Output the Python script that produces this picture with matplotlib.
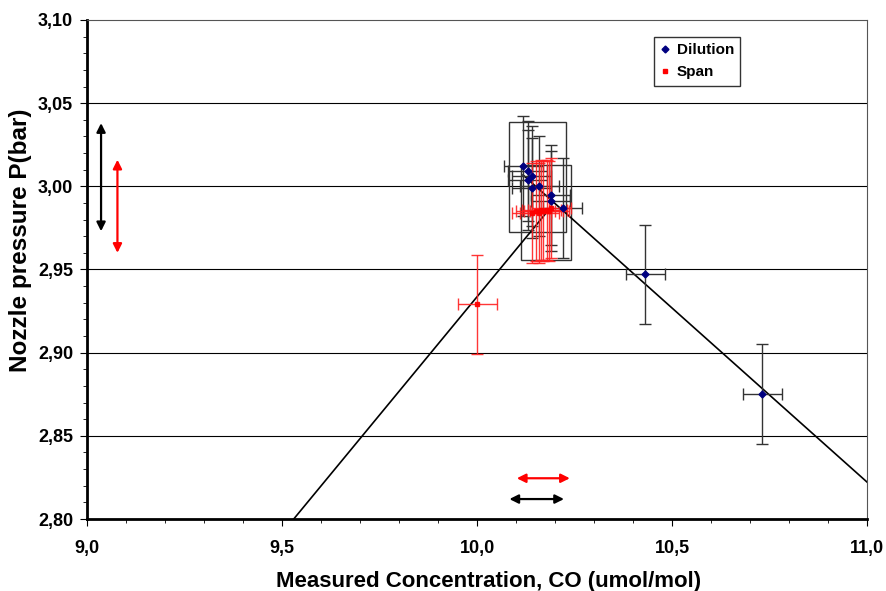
import matplotlib
matplotlib.use("Agg")
import matplotlib.pyplot as plt
from matplotlib.patches import Rectangle
from matplotlib.lines import Line2D
from matplotlib.ticker import MultipleLocator, FuncFormatter

plt.rcParams['font.family'] = ['Liberation Sans', 'DejaVu Sans']
plt.rcParams['font.weight'] = 'bold'

# Dilution series
dil_x = [10.119, 10.130, 10.140, 10.130, 10.140, 10.160, 10.189, 10.189, 10.220, 10.431, 10.731]
dil_y = [3.012, 3.009, 3.006, 3.004, 2.999, 3.000, 2.995, 2.991, 2.987, 2.947, 2.875]
dil_xerr = 0.05
dil_yerr = 0.03

# Span series
span_x = [10.00, 10.14, 10.15, 10.16, 10.165, 10.17, 10.18, 10.185, 10.19]
span_y = [2.929, 2.984, 2.985, 2.984, 2.986, 2.985, 2.986, 2.985, 2.987]
span_xerr = 0.05
span_yerr = 0.03

# fitted lines
fit_span_x = [9.53, 10.19]
fit_span_y = [2.80, 2.9876]
fit_dil_x = [10.118, 11.0]
fit_dil_y = [3.0068, 2.8222]

# uncertainty boxes: x0, y0, width, height
boxes = [(10.082, 2.9728, 0.145, 0.0661), (10.112, 2.9558, 0.128, 0.0571)]

# uncertainty arrows: (x0, y0, x1, y1, colour)
arrows = [(9.036, 3.038, 9.036, 2.973, 'black'),
          (9.078, 3.016, 9.078, 2.960, 'red'),
          (10.102, 2.8245, 10.238, 2.8245, 'red'),
          (10.083, 2.812, 10.223, 2.812, 'black')]

fig = plt.figure(figsize=(8.87, 5.91), dpi=100)
ax = fig.add_axes([0.0981, 0.1218, 0.8794, 0.8444])

for y in [2.85, 2.90, 2.95, 3.00, 3.05]:
    ax.axhline(y, color='black', lw=0.8, zorder=0)

for x0, y0, w, h in boxes:
    ax.add_patch(Rectangle((x0, y0), w, h, fill=False, ec='#333333', lw=1.0, zorder=1))

ax.plot(fit_span_x, fit_span_y, color='black', lw=1.2, zorder=3)
ax.plot(fit_dil_x, fit_dil_y, color='black', lw=1.2, zorder=3)

ax.errorbar(dil_x, dil_y, xerr=dil_xerr, yerr=dil_yerr, fmt='D', color='#000080',
            ms=3.5, ecolor='#333333', elinewidth=1.0, capsize=4, capthick=1.0, zorder=4)
ax.errorbar(span_x, span_y, xerr=span_xerr, yerr=span_yerr, fmt='s', color='red',
            ms=3, ecolor='#ff2020', elinewidth=1.0, capsize=4, capthick=1.0,
            alpha=0.9, zorder=4)

for x0, y0, x1, y1, c in arrows:
    ax.annotate('', xy=(x1, y1), xytext=(x0, y0),
                arrowprops=dict(arrowstyle='<|-|>', color=c, lw=1.6,
                                mutation_scale=13, shrinkA=0, shrinkB=0),
                annotation_clip=False)

ax.set_xlim(9.0, 11.0)
ax.set_ylim(2.80, 3.10)
ax.xaxis.set_major_locator(MultipleLocator(0.5))
ax.xaxis.set_minor_locator(MultipleLocator(0.1))
ax.yaxis.set_major_locator(MultipleLocator(0.05))
ax.yaxis.set_minor_locator(MultipleLocator(0.01))
ax.xaxis.set_major_formatter(FuncFormatter(lambda v, p: f"{v:.1f}".replace('.', ',')))
ax.yaxis.set_major_formatter(FuncFormatter(lambda v, p: f"{v:.2f}".replace('.', ',')))
ax.tick_params(which='major', direction='out', length=5, labelsize=13)
ax.tick_params(which='minor', direction='out', length=3)
ax.tick_params(axis='x', pad=10)
ax.tick_params(axis='y', pad=5)

ax.spines['left'].set_linewidth(2.0)
ax.spines['bottom'].set_linewidth(2.0)
ax.spines['top'].set_color('#555555')
ax.spines['right'].set_color('#555555')

ax.set_xlabel('Measured Concentration, CO (umol/mol)', fontsize=16, fontweight='bold')
ax.set_ylabel('Nozzle pressure P(bar)', fontsize=17.5, fontweight='bold')
ax.xaxis.set_label_coords(0.515, -0.104)
ax.yaxis.set_label_coords(-0.07, 0.559)

handles = [Line2D([], [], ls='none', marker='D', ms=3.5, color='#000080'),
           Line2D([], [], ls='none', marker='s', ms=3.5, color='red')]
leg = ax.legend(handles, ['Dilution', 'Span'], loc='upper left', bbox_to_anchor=(0.727, 0.966),
                frameon=True, fancybox=False, edgecolor='black', fontsize=11,
                handlelength=0.6, handletextpad=0.5, borderpad=0.4, labelspacing=0.55,
                borderaxespad=0)
leg.get_frame().set_linewidth(1.0)

fig.savefig('out.png', dpi=100)
